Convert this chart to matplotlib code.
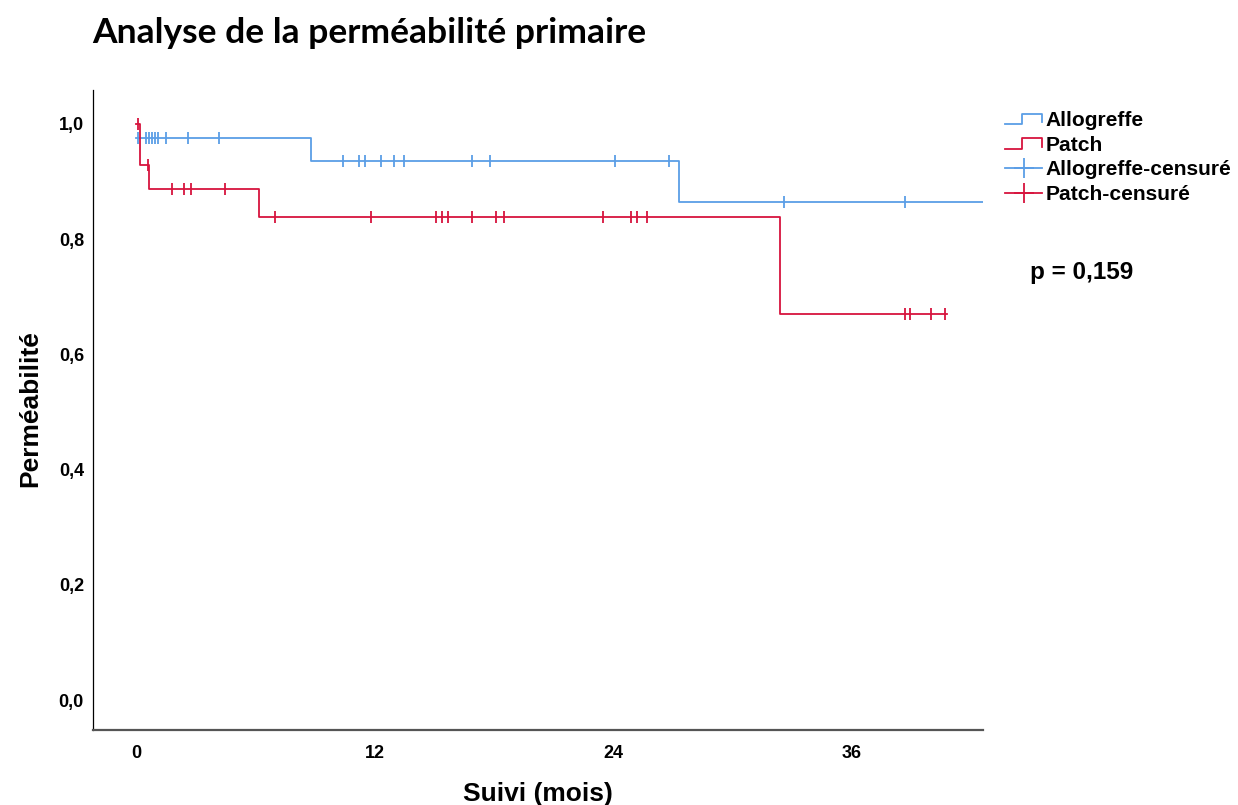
import numpy as np
import matplotlib
matplotlib.use("Agg")
import matplotlib.pyplot as plt
from matplotlib.lines import Line2D
from matplotlib.legend_handler import HandlerBase

# Kaplan-Meier steps (months, permeability)
allo_times = [0, 8.8, 27.3, 43.5]
allo_surv = [0.976, 0.936, 0.864, 0.864]
allo_cens = [0.12, 0.5, 0.65, 0.8, 0.95, 1.1, 1.5, 2.6, 4.2,
             10.4, 11.2, 11.5, 12.3, 13.0, 13.5, 16.9, 17.8, 24.1, 26.8,
             32.6, 38.7]

patch_times = [0, 0.2, 0.67, 6.2, 32.4, 40.8]
patch_surv = [1.0, 0.929, 0.887, 0.838, 0.671, 0.671]
patch_cens = [0.08, 0.6, 1.8, 2.4, 2.76, 4.5, 7.0, 11.8,
              15.1, 15.4, 15.7, 16.9, 18.1, 18.5, 23.5, 24.9, 25.2, 25.7,
              38.7, 38.95, 40.0, 40.7]

x_ticks = [0, 12, 24, 36]
y_ticks = [0.0, 0.2, 0.4, 0.6, 0.8, 1.0]

blue = '#5b9ee6'
red = '#d7143e'
font = 'Liberation Sans'


def level_at(times, surv, t):
    idx = np.searchsorted(times, t, side='right') - 1
    return np.array(surv)[idx]


class StepHandler(HandlerBase):
    def create_artists(self, legend, orig_handle, xdescent, ydescent,
                       width, height, fontsize, trans):
        x0 = -xdescent
        y0 = -ydescent
        xs = [x0, x0 + 0.45 * width, x0 + 0.45 * width, x0 + width, x0 + width]
        ys = [y0 + 0.15 * height, y0 + 0.15 * height, y0 + 0.85 * height,
              y0 + 0.85 * height, y0 + 0.3 * height]
        ln = Line2D(xs, ys, color=orig_handle.get_color(),
                    lw=orig_handle.get_linewidth(), transform=trans)
        return [ln]


fig = plt.figure(figsize=(12.38, 8.05), dpi=100)
ax = fig.add_axes([93 / 1238, 1 - 730 / 805, 890 / 1238, 640 / 805])

l1, = ax.step(allo_times, allo_surv, where='post', color=blue, lw=1.3)
l2, = ax.step(patch_times, patch_surv, where='post', color=red, lw=1.3)
ax.plot(allo_cens, level_at(allo_times, allo_surv, allo_cens), ls='none',
        marker='|', ms=9, mew=1.3, color=blue)
ax.plot(patch_cens, level_at(patch_times, patch_surv, patch_cens), ls='none',
        marker='|', ms=9, mew=1.3, color=red)

ax.set_xlim(-2.16, 42.6)
ax.set_ylim(-0.052, 1.059)
ax.set_xticks(x_ticks)
ax.set_xticklabels([str(v) for v in x_ticks])
ax.set_yticks(y_ticks)
ax.set_yticklabels([('%.1f' % v).replace('.', ',') for v in y_ticks])
ax.tick_params(length=0, labelsize=13)
ax.tick_params(axis='x', pad=11)
ax.tick_params(axis='y', pad=6.5)
for lab in ax.get_xticklabels() + ax.get_yticklabels():
    lab.set_fontweight('bold')
    lab.set_family(font)
for s in ['top', 'right']:
    ax.spines[s].set_visible(False)
ax.spines['left'].set_linewidth(0.9)
ax.spines['bottom'].set_linewidth(1.6)
ax.spines['bottom'].set_color('#555555')

h3 = Line2D([], [], color=blue, lw=1.3, marker='+', ms=14, mew=1.3)
h4 = Line2D([], [], color=red, lw=1.3, marker='+', ms=14, mew=1.3)
leg = fig.legend([l1, l2, h3, h4],
                 ['Allogreffe', 'Patch', 'Allogreffe-censuré', 'Patch-censuré'],
                 loc='upper left', bbox_to_anchor=(995 / 1238, 1 - 101 / 805),
                 frameon=False, borderpad=0, labelspacing=0.26,
                 handlelength=1.75, handletextpad=0.15, numpoints=1,
                 handler_map={l1: StepHandler(), l2: StepHandler()},
                 prop={'family': font, 'weight': 'bold', 'size': 15.1})

fig.text(1030 / 1238, 1 - 279 / 805, 'p = 0,159', family=font,
         weight='bold', fontsize=17.5, ha='left', va='baseline')

fig.text(92 / 1238, 1 - 43 / 805, 'Analyse de la perméabilité primaire',
         family='Lato', weight='bold', fontsize=25.5, ha='left', va='baseline')
fig.text(30 / 1238, 1 - 409 / 805, 'Perméabilité', family=font,
         weight='bold', fontsize=19, rotation=90, ha='center', va='center')
fig.text(538 / 1238, 1 - 801 / 805, 'Suivi (mois)', family=font,
         weight='bold', fontsize=19, ha='center', va='baseline')

fig.savefig('out.png', dpi=100)
